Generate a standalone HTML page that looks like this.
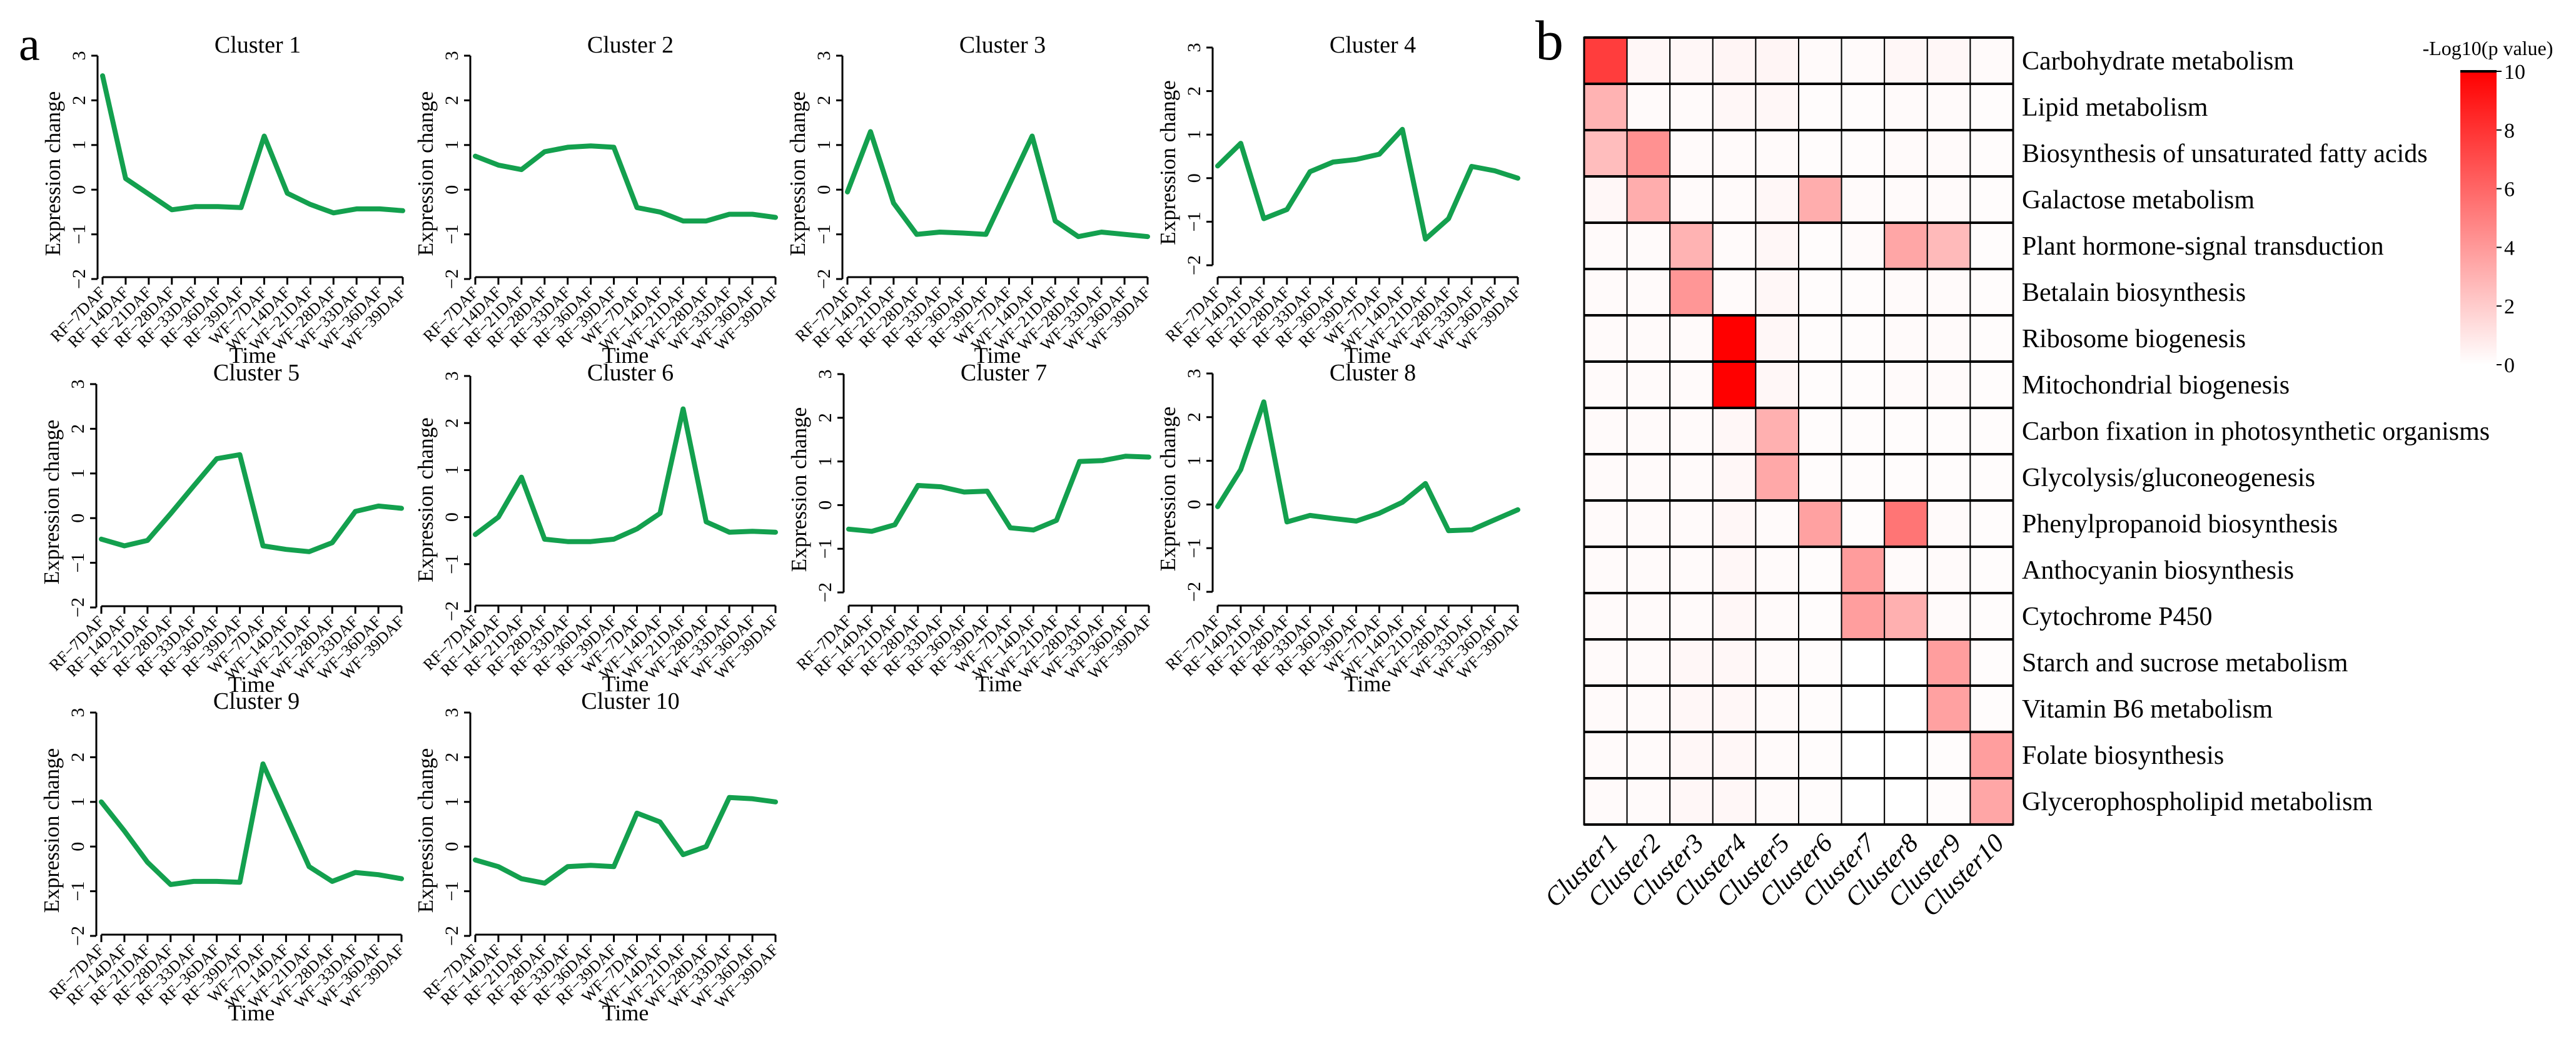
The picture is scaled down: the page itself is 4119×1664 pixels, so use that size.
<!DOCTYPE html>
<html><head><meta charset="utf-8"><style>
html,body{margin:0;padding:0;background:#fff;}
svg{display:block;}
text{font-family:"Liberation Serif",serif;fill:#000;}
</style></head><body>
<svg id="fig" width="4119" height="1664" viewBox="0 0 4119 1664" xmlns="http://www.w3.org/2000/svg">
<rect x="0" y="0" width="4119" height="1664" fill="#fff"/>
<text x="30" y="96" font-size="76">a</text>
<text x="2455" y="95" font-size="90">b</text>
<g id="lines"></g>
<g id="heat"></g>
</svg>
<script>
// ---- Panel a data ----
const timeLabels = ["RF\u22127DAF","RF\u221214DAF","RF\u221221DAF","RF\u221228DAF","RF\u221233DAF","RF\u221236DAF","RF\u221239DAF","WF\u22127DAF","WF\u221214DAF","WF\u221221DAF","WF\u221228DAF","WF\u221233DAF","WF\u221236DAF","WF\u221239DAF"];
const yTicks = [-2,-1,0,1,2,3];
const cluster1 = [2.55,0.25,-0.1,-0.45,-0.38,-0.38,-0.4,1.2,-0.08,-0.33,-0.52,-0.43,-0.43,-0.47];
const cluster2 = [0.75,0.55,0.45,0.85,0.95,0.98,0.95,-0.4,-0.5,-0.7,-0.7,-0.55,-0.55,-0.62];
const cluster3 = [-0.05,1.3,-0.3,-1.0,-0.95,-0.97,-1.0,0.1,1.2,-0.7,-1.05,-0.95,-1.0,-1.05];
const cluster4 = [0.28,0.8,-0.93,-0.72,0.15,0.37,0.43,0.55,1.12,-1.4,-0.93,0.27,0.17,0.0];
const cluster5 = [-0.47,-0.62,-0.5,0.1,0.72,1.33,1.42,-0.62,-0.7,-0.75,-0.55,0.15,0.27,0.22];
const cluster6 = [-0.37,0.0,0.85,-0.47,-0.52,-0.52,-0.47,-0.25,0.08,2.3,-0.1,-0.32,-0.3,-0.32];
const cluster7 = [-0.55,-0.6,-0.45,0.45,0.42,0.3,0.32,-0.52,-0.57,-0.35,1.0,1.02,1.12,1.1];
const cluster8 = [-0.05,0.8,2.35,-0.4,-0.25,-0.32,-0.38,-0.2,0.05,0.48,-0.6,-0.58,-0.35,-0.12];
const cluster9 = [1.0,0.35,-0.35,-0.85,-0.78,-0.78,-0.8,1.85,0.7,-0.45,-0.78,-0.58,-0.63,-0.72];
const cluster10 = [-0.3,-0.45,-0.72,-0.82,-0.45,-0.42,-0.45,0.75,0.55,-0.18,0.0,1.1,1.07,1.0];
const clusterSeries = [cluster1,cluster2,cluster3,cluster4,cluster5,cluster6,cluster7,cluster8,cluster9,cluster10];

// ---- Panel b data ----
const pathways = ["Carbohydrate metabolism","Lipid metabolism","Biosynthesis of unsaturated fatty acids","Galactose metabolism","Plant hormone-signal transduction","Betalain biosynthesis","Ribosome biogenesis","Mitochondrial biogenesis","Carbon fixation in photosynthetic organisms","Glycolysis/gluconeogenesis","Phenylpropanoid biosynthesis","Anthocyanin biosynthesis","Cytochrome P450","Starch and sucrose metabolism","Vitamin B6 metabolism","Folate biosynthesis","Glycerophospholipid metabolism"];
const clusterNames = ["Cluster1","Cluster2","Cluster3","Cluster4","Cluster5","Cluster6","Cluster7","Cluster8","Cluster9","Cluster10"];
const pvals = [
[7.6,0.3,0.3,0.4,0.4,0.2,0.2,0.3,0.3,0.2],
[3.0,0.2,0.2,0.3,0.3,0.1,0.1,0.2,0.2,0.1],
[2.6,4.3,0.2,0.2,0.2,0.1,0.1,0.2,0.2,0.1],
[0.3,3.2,0.2,0.2,0.3,3.2,0.2,0.2,0.2,0.1],
[0.2,0.2,3.0,0.2,0.3,0.1,0.2,3.5,2.7,0.1],
[0.2,0.2,4.1,0.2,0.3,0.1,0.1,0.2,0.2,0.1],
[0.2,0.2,0.2,10,0.3,0.1,0.1,0.2,0.2,0.1],
[0.2,0.2,0.2,10,0.3,0.1,0.1,0.2,0.2,0.1],
[0.2,0.2,0.2,0.3,3.1,0.1,0.1,0.1,0.1,0.1],
[0.2,0.2,0.2,0.3,3.4,0.1,0.1,0.1,0.1,0.1],
[0.2,0.2,0.2,0.3,0.2,3.7,0.1,5.4,0.2,0.1],
[0.2,0.2,0.2,0.3,0.2,0.1,3.9,0.2,0.2,0.1],
[0.2,0.2,0.2,0.3,0.2,0.1,3.8,3.1,0.2,0.1],
[0.2,0.2,0.3,0.3,0.2,0.1,0.0,0.0,3.8,0.1],
[0.2,0.2,0.3,0.3,0.2,0.1,0.0,0.0,3.7,0.1],
[0.2,0.2,0.3,0.3,0.2,0.1,0.0,0.0,0.1,3.8],
[0.2,0.2,0.3,0.3,0.2,0.1,0.0,0.0,0.1,3.5]];
const legendTicks = [0,2,4,6,8,10];

const NS = "http://www.w3.org/2000/svg";
function mk(parent, tag, attrs, txt){
  const e = document.createElementNS(NS, tag);
  for (const k in attrs) e.setAttribute(k, attrs[k]);
  if (txt !== undefined) e.textContent = txt;
  parent.appendChild(e);
  return e;
}

// panel layout: [axisX, yTopFor3, yBotForMinus2, xAxisY]
const layout = [
 [156,89,446,443],[752,89,446,443],[1347,89,446,443],[1939,76,424,443],
 [154,614,971,969],[752,601,977,968],[1349,598,947,968],[1939,597,946,968],
 [154,1139,1496,1494],[752,1139,1496,1494]];
const titleY = [84,84,84,84,608,608,608,608,1133,1133];

const gl = document.getElementById('lines');
clusterSeries.forEach((vals, ci) => {
  const [ax, yt, yb, xa] = layout[ci];
  const g = mk(gl, 'g', {});
  
  
  const ys = v => yb - (v + 2) / 5 * (yb - yt);
  const x0 = ax + 8, x1 = ax + 488;
  const xs = i => x0 + i * (x1 - x0) / (timeLabels.length - 1);
  const t = mk(g, 'text', {x: (x0+x1)/2 + 8, y: titleY[ci], 'font-size': 38, 'text-anchor': 'middle'}, 'Cluster ' + (ci+1));
  
  
  const ya = mk(g, 'line', {x1: ax, y1: ys(3), x2: ax, y2: ys(-2), stroke: '#000', 'stroke-width': 3});
  
  
  yTicks.forEach(v => {
    const tk = mk(g, 'line', {x1: ax - 10, y1: ys(v), x2: ax, y2: ys(v), stroke: '#000', 'stroke-width': 3});
    
    
    const tl = mk(g, 'text', {x: 0, y: 0, 'font-size': 30, 'text-anchor': 'middle', transform: `translate(${ax-20},${ys(v)}) rotate(-90)`}, v < 0 ? '\u2212' + (-v) : String(v));
    
    
  });
  const yt2 = mk(g, 'text', {x: 0, y: 0, 'font-size': 35, 'text-anchor': 'middle', transform: `translate(${ax-60},${(ys(3)+ys(-2))/2 + 10}) rotate(-90)`}, 'Expression change');
  
  
  const xl = mk(g, 'line', {x1: x0, y1: xa, x2: x1, y2: xa, stroke: '#000', 'stroke-width': 3});
  
  
  timeLabels.forEach((lab, i) => {
    const tk = mk(g, 'line', {x1: xs(i), y1: xa, x2: xs(i), y2: xa + 12, stroke: '#000', 'stroke-width': 3});
    
    
    const tl = mk(g, 'text', {x: 0, y: 0, 'font-size': 26, 'text-anchor': 'end', transform: `translate(${xs(i)+6},${xa+26}) rotate(-45)`}, lab);
    
    
  });
  const xt = mk(g, 'text', {x: (x0+x1)/2, y: xa + 137, 'font-size': 36, 'text-anchor': 'middle'}, 'Time');
  
  
  const pts = vals.map((v, i) => xs(i).toFixed(1) + ',' + ys(v).toFixed(1)).join(' ');
  const pl = mk(g, 'polyline', {points: pts, fill: 'none', stroke: '#13a04e', 'stroke-width': 8, 'stroke-linejoin': 'round', 'stroke-linecap': 'round'});
  
  
});

const gh = document.getElementById('heat');
const HX = 2533, HY = 60, CW = 68.6, RH = 74;
const color = v => { const c = Math.round(255 * (1 - Math.min(v, 10) / 10)); return `rgb(255,${c},${c})`; };
pvals.forEach((row, r) => {
  row.forEach((v, c) => {
    const cell = mk(gh, 'rect', {x: HX + c*CW, y: HY + r*RH, width: CW, height: RH, fill: color(v), stroke: '#000', 'stroke-width': 2});
    
    
  });
  const lab = mk(gh, 'text', {x: HX + 10*CW + 14, y: HY + r*RH + RH/2 + 14, 'font-size': 42}, pathways[r]);
  
  
});
for (let r = 0; r <= pvals.length; r++) {
  const hl = mk(gh, 'line', {x1: HX, y1: HY + r*RH, x2: HX + 10*CW, y2: HY + r*RH, stroke: '#000', 'stroke-width': 4});
  
  
}
const bl = mk(gh, 'rect', {x: HX, y: HY, width: 10*CW, height: pvals.length*RH, fill: 'none', stroke: '#000', 'stroke-width': 3});


clusterNames.forEach((n, c) => {
  const t = mk(gh, 'text', {x: 0, y: 0, 'font-size': 42, 'font-style': 'italic', 'text-anchor': 'end', transform: `translate(${HX + c*CW + CW/2 + 22},${HY + pvals.length*RH + 32}) rotate(-45)`}, n);
  
  
});
const defs = mk(gh, 'defs', {});
const lg = mk(defs, 'linearGradient', {id: 'cb', x1: 0, y1: 1, x2: 0, y2: 0});
mk(lg, 'stop', {offset: 0, 'stop-color': '#ffffff'});
mk(lg, 'stop', {offset: 1, 'stop-color': '#ff0000'});
const CBX = 3934, CBT = 114, CBB = 583, CBW = 58;
const cbs = v => CBB - v / 10 * (CBB - CBT);
const cb = mk(gh, 'rect', {x: CBX, y: CBT, width: CBW, height: CBB - CBT, fill: 'url(#cb)'});


const cbtop = mk(gh, 'line', {x1: CBX, y1: CBT, x2: CBX + CBW, y2: CBT, stroke: '#000', 'stroke-width': 4});


legendTicks.forEach(v => {
  const tk = mk(gh, 'line', {x1: CBX + CBW, y1: cbs(v), x2: CBX + CBW + 8, y2: cbs(v), stroke: '#000', 'stroke-width': 2});
  
  
  const tl = mk(gh, 'text', {x: CBX + CBW + 12, y: cbs(v) + 12, 'font-size': 34}, String(v));
  
  
});
const cbt = mk(gh, 'text', {x: 3978, y: 88, 'font-size': 32, 'text-anchor': 'middle'}, '-Log10(p value)');


</script>
</body></html>
